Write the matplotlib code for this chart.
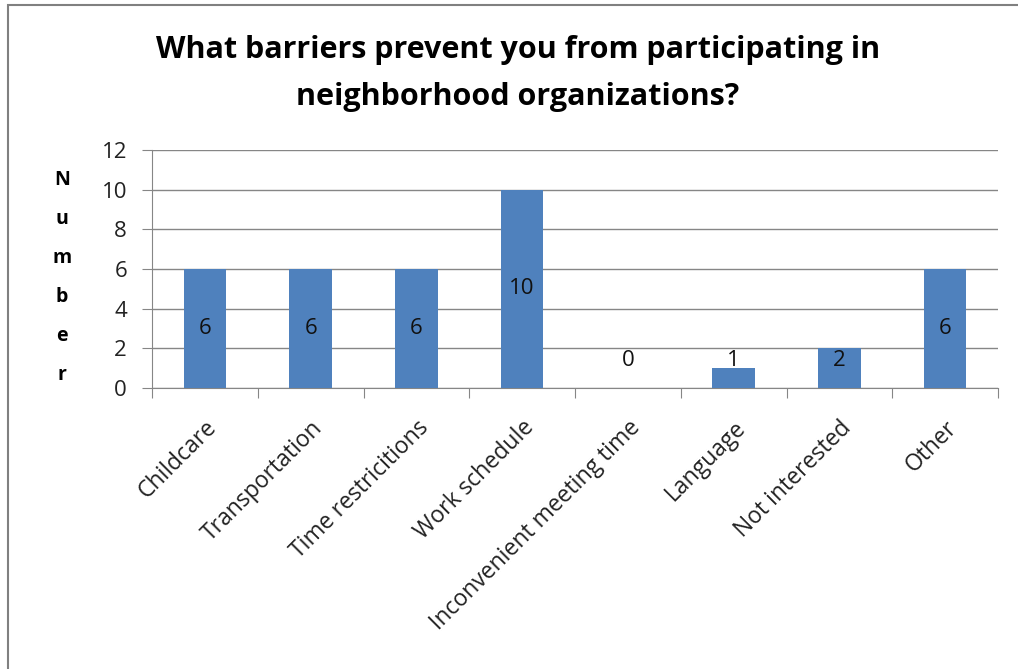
import matplotlib
matplotlib.use("Agg")
import matplotlib.pyplot as plt
from matplotlib.patches import Rectangle
import numpy as np

categories = ["Childcare", "Transportation", "Time restricitions", "Work schedule",
              "Inconvenient meeting time", "Language", "Not interested", "Other"]
values = [6, 6, 6, 10, 0, 1, 2, 6]
yticks = [0, 2, 4, 6, 8, 10, 12]
title_lines = ["What barriers prevent you from participating in",
               "neighborhood organizations?"]
ylabel = "Number"

W, H = 1018, 669
fig = plt.figure(figsize=(W / 100, H / 100), dpi=100)
fig.patch.set_facecolor("white")

# outer frame
fig.patches.append(Rectangle((8 / W, -0.1), 1.2, 1 - 5 / H + 0.1, transform=fig.transFigure,
                             fill=False, edgecolor="#808080", linewidth=1.5))

FAM = ["Open Sans", "DejaVu Sans"]
ax = fig.add_axes([152 / W, 1 - 388 / H, (998 - 152) / W, (388 - 150) / H])
x = np.arange(len(categories))
ax.bar(x, values, width=0.4, color="#4F81BD", zorder=3)
ax.set_xlim(-0.5, len(categories) - 0.5)
ax.set_ylim(0, 12)
ax.set_yticks(yticks)
ax.yaxis.grid(True, color="#868686", linewidth=1, zorder=0)
ax.set_axisbelow(True)
for s in ["top", "right"]:
    ax.spines[s].set_visible(False)
for s in ["left", "bottom"]:
    ax.spines[s].set_color("#868686")
ax.tick_params(axis="y", length=7, color="#868686", labelsize=16, pad=11)
ax.set_xticks(np.arange(-0.5, len(categories)), minor=False)
ax.set_xticklabels([])
ax.tick_params(axis="x", length=7, color="#868686")
ax.set_xticks(x, minor=True)
ax.set_xticklabels(categories, minor=True, rotation=45, ha="right",
                   rotation_mode="anchor", fontsize=16.5)
ax.tick_params(axis="x", which="minor", length=0, pad=20)
for lab in ax.get_yticklabels() + ax.get_xticklabels(minor=True):
    lab.set_family(FAM)
    lab.set_color("#222222")

for xi, v in zip(x, values):
    ax.text(xi, max(v / 2, 1.4), str(v), ha="center", va="center", fontsize=16,
            family=FAM, color="#111111", zorder=4)

for line, yy in zip(title_lines, [50, 97]):
    fig.text(518 / W, 1 - yy / H, line, ha="center", va="center", fontsize=22,
             fontweight="bold", family=FAM)

ys = np.linspace(180, 375, len(ylabel))
for ch, yy in zip(ylabel, ys):
    fig.text(62 / W, 1 - yy / H, ch, ha="center", va="center", fontsize=14,
             fontweight="bold", family=FAM)

fig.savefig("out.png", dpi=100)
